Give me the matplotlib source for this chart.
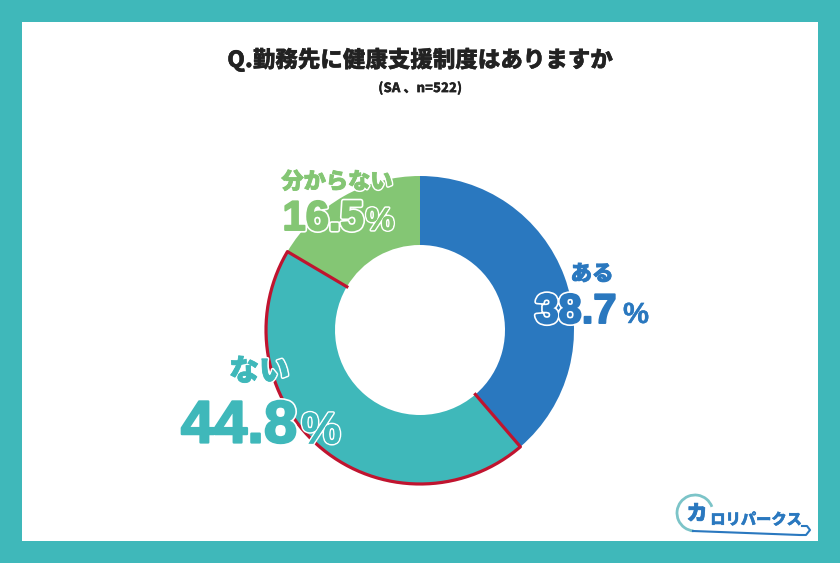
import numpy as np
import matplotlib
matplotlib.use('Agg')
import matplotlib.pyplot as plt
import matplotlib.patheffects as pe
from matplotlib.patches import Rectangle, Arc

plt.rcParams['font.family'] = ['Noto Sans CJK JP', 'DejaVu Sans']

title = 'Q.勤務先に健康支援制度はありますか'
subtitle = '(SA 、n=522)'
labels = ['ある', 'ない', '分からない']
values = [38.7, 44.8, 16.5]
colors = ['#2a78bf', '#3fb8ba', '#84c674']
teal = '#3fb8ba'
red = '#c0142f'
dark = '#222222'

W, H = 840, 563
cx, cy = 420, H - 330
r_out, r_in = 154, 85

fig = plt.figure(figsize=(W / 100, H / 100), dpi=100, facecolor=teal)
ax = fig.add_axes([0, 0, 1, 1])
ax.add_patch(Rectangle((22, 22), 796, 519, fc='white', ec='none', zorder=0))

wedges, _ = ax.pie(values, colors=colors, startangle=90, counterclock=False,
                   radius=r_out, center=(cx, cy),
                   wedgeprops=dict(width=r_out - r_in, linewidth=0))
ax.set_xlim(0, W)
ax.set_ylim(0, H)
ax.set_aspect('equal')
ax.axis('off')

# red outline round the ない wedge, open on the inner side
w = wedges[1]
t = np.radians(np.linspace(w.theta1, w.theta2, 200))
xs = np.r_[cx + r_in * np.cos(t[0]), cx + r_out * np.cos(t), cx + r_in * np.cos(t[-1])]
ys = np.r_[cy + r_in * np.sin(t[0]), cy + r_out * np.sin(t), cy + r_in * np.sin(t[-1])]
ax.plot(xs, ys, color=red, lw=2.3, solid_joinstyle='round', zorder=3)


def put(x, y, s, size, color, thick=0.0, halo=0.0, family=None):
    txt = ax.text(x, H - y, s, fontsize=size, color=color, ha='center', va='center',
                  fontweight='black', family=family or plt.rcParams['font.family'], zorder=5)
    effects = []
    if halo:
        effects.append(pe.Stroke(linewidth=thick + halo, foreground='white'))
    if thick:
        effects.append(pe.Stroke(linewidth=thick, foreground=color))
    if effects:
        txt.set_path_effects(effects + [pe.Normal()])
    return txt


num_font = ['Liberation Sans']

put(420, 60, title, 16.2, dark, thick=0.25)
put(420, 88, subtitle, 9.4, dark, thick=0.1)

put(592, 274, labels[0], 15.5, colors[0], thick=0.6, halo=2.2)
put(576, 312, f'{values[0]:.1f}', 30, colors[0], thick=1.4, halo=2.4, family=num_font)
put(636, 315, '%', 21, colors[0], thick=0.3, halo=2.2, family=num_font)

put(259, 371, labels[1], 21.5, colors[1], thick=0.6, halo=2.2)
put(239, 427, f'{values[1]:.1f}', 43, colors[1], thick=1.6, halo=2.4, family=num_font)
put(321, 432, '%', 32, colors[1], thick=0.3, halo=2.2, family=num_font)

put(337, 182, labels[2], 16, colors[2], thick=0.6, halo=2.2)
put(323, 219, f'{values[2]:.1f}', 30, colors[2], thick=1.4, halo=2.4, family=num_font)
put(380, 222, '%', 23, colors[2], thick=0.3, halo=2.2, family=num_font)

# logo
logo_blue = '#2a78bf'
ax.add_patch(Arc((695, H - 513), 36, 36, theta1=20, theta2=265, color='#7cc4c8', lw=2.0, zorder=4))
ax.plot([693, 800, 806, 810, 807, 802], [H - 531, H - 535, H - 535, H - 530, H - 526, H - 526],
        color=logo_blue, lw=1.5, zorder=4)
put(697, 514, 'カ', 15, logo_blue, thick=0.5)
put(756, 520, 'ロリパークス', 11, logo_blue, thick=0.3)

fig.savefig('out.png', dpi=100, facecolor=teal)
